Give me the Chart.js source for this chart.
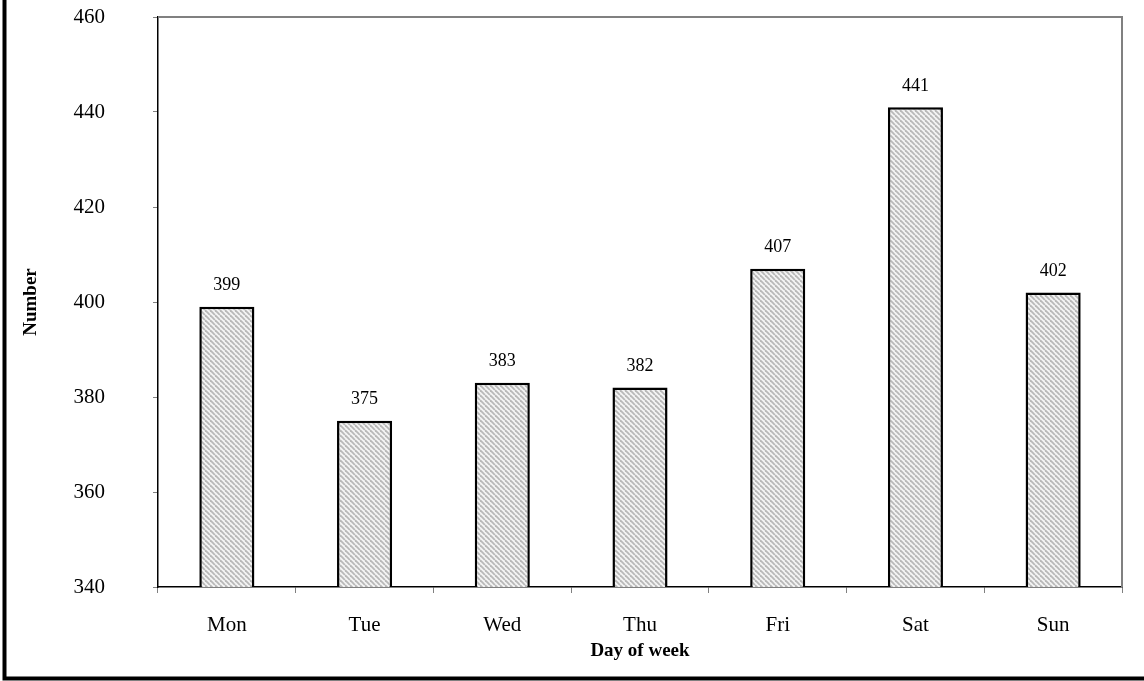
<!DOCTYPE html>
<html>
<head>
<meta charset="utf-8">
<script src="https://cdn.jsdelivr.net/npm/chart.js@4.4.0/dist/chart.umd.min.js"></script>
<style>
html,body{margin:0;padding:0;background:#fff;}
#wrap{width:1144px;height:681px;position:relative;}
</style>
</head>
<body>
<div id="wrap"><canvas id="c" width="1144" height="681"></canvas></div>
<script>
const categories = ['Mon','Tue','Wed','Thu','Fri','Sat','Sun'];
const values = [399, 375, 383, 382, 407, 441, 402];
const yMin = 340, yMax = 460, yStep = 20;
const xTitle = 'Day of week';
const yTitle = 'Number';

function makePattern() {
  const p = document.createElement('canvas');
  p.width = 5; p.height = 5;
  const g = p.getContext('2d');
  g.fillStyle = '#f4f4f4';
  g.fillRect(0,0,5,5);
  g.strokeStyle = '#b8b8b8';
  g.lineWidth = 1.8;
  for (let k = -10; k <= 10; k += 5) {
    g.beginPath();
    g.moveTo(k, 0);
    g.lineTo(k + 5, 5);
    g.stroke();
  }
  return document.getElementById('c').getContext('2d').createPattern(p, 'repeat');
}

const framePlugin = {
  id: 'frame',
  afterDraw(chart) {
    const ctx = chart.ctx;
    const a = chart.chartArea;
    ctx.save();
    ctx.strokeStyle = '#808080';
    ctx.lineWidth = 2;
    ctx.beginPath();
    ctx.moveTo(a.left, a.top);
    ctx.lineTo(a.right, a.top);
    ctx.lineTo(a.right, a.bottom);
    ctx.stroke();
    ctx.strokeStyle = '#000';
    ctx.lineWidth = 4;
    ctx.beginPath();
    ctx.moveTo(4.5, 0);
    ctx.lineTo(4.5, 678.5);
    ctx.lineTo(1144, 678.5);
    ctx.stroke();
    ctx.fillStyle = '#000';
    ctx.font = '18px "Liberation Serif", "Times New Roman", serif';
    ctx.textAlign = 'center';
    ctx.textBaseline = 'middle';
    const meta = chart.getDatasetMeta(0);
    meta.data.forEach((bar, i) => {
      ctx.fillText(String(values[i]), bar.x, bar.y - 21);
    });
    ctx.font = 'bold 19px "Liberation Serif", "Times New Roman", serif';
    ctx.fillText(xTitle, (a.left + a.right) / 2, 651);
    ctx.translate(31, (a.top + a.bottom) / 2);
    ctx.rotate(-Math.PI / 2);
    ctx.fillText(yTitle, 0, 0);
    ctx.restore();
  }
};

new Chart(document.getElementById('c'), {
  type: 'bar',
  data: {
    labels: categories,
    datasets: [{
      data: values,
      backgroundColor: makePattern(),
      borderColor: '#000',
      borderWidth: 2.5,
      borderSkipped: false,
      barPercentage: 0.4,
      categoryPercentage: 1.0
    }]
  },
  options: {
    responsive: false,
    animation: false,
    devicePixelRatio: 1,
    layout: { padding: { top: 17, right: 22, left: 0, bottom: 0 } },
    plugins: { legend: { display: false }, tooltip: { enabled: false } },
    scales: {
      x: {
        afterFit(s) { s.height = 94; s.paddingLeft = 0; s.paddingRight = 0; },
        grid: { display: true, drawOnChartArea: false, drawTicks: true, tickLength: 6, color: '#808080', offset: true },
        border: { display: true, color: '#000', width: 1.5 },
        ticks: { color: '#000', padding: 20, font: { family: '"Liberation Serif", "Times New Roman", serif', size: 21 } }
      },
      y: {
        min: yMin, max: yMax,
        afterFit(s) { s.width = 158; s.paddingTop = 0; s.paddingBottom = 0; },
        grid: { display: true, drawOnChartArea: false, drawTicks: true, tickLength: 5, color: '#808080' },
        border: { display: true, color: '#000', width: 1.5 },
        ticks: { stepSize: yStep, color: '#000', padding: 48, font: { family: '"Liberation Serif", "Times New Roman", serif', size: 21 } }
      }
    }
  },
  plugins: [framePlugin]
});
</script>
</body>
</html>
